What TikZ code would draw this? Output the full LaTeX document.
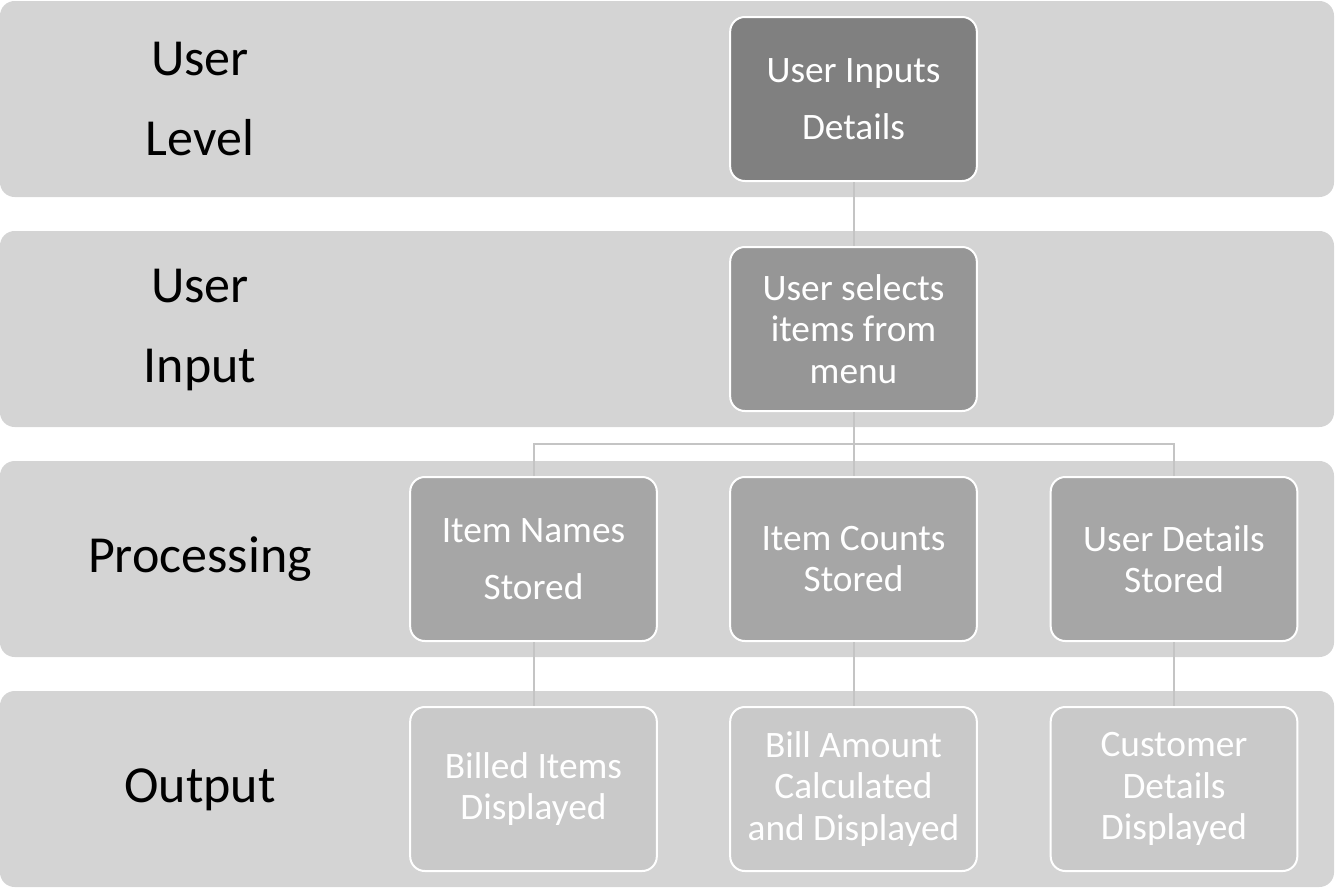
\documentclass[tikz,border=0pt]{standalone}
\usepackage{fontspec}
\setmainfont{Carlito}
\definecolor{bandc}{HTML}{D4D4D4}
\definecolor{lvA}{HTML}{808080}
\definecolor{lvB}{HTML}{969696}
\definecolor{lvC}{HTML}{A6A6A6}
\definecolor{lvD}{HTML}{C9C9C9}
\definecolor{linec}{HTML}{C4C4C4}
\begin{document}
\begin{tikzpicture}[x=0.75pt,y=-0.75pt,
  band/.style={fill=bandc,draw=none,rounded corners=11pt},
  lbl/.style={align=center,text=black,inner sep=0pt},
  bigA/.style={font=\fontsize{39}{60}\selectfont},
  box/.style={draw=white,line width=1.5pt,rounded corners=11pt,minimum width=185pt,minimum height=123pt,inner sep=0pt,align=center,text=white},
  wide/.style={font=\fontsize{28}{43}\selectfont},
  tight/.style={font=\fontsize{28}{31}\selectfont},
  conn/.style={draw=linec,line width=1.5pt}]
\useasboundingbox (0,0) rectangle (1335,889);
\fill[band] (0,1) rectangle (1334,197);
\fill[band] (0,231) rectangle (1334,427);
\fill[band] (0,461) rectangle (1334,657);
\fill[band] (0,691) rectangle (1334,887);
\node[lbl,bigA] (l1) at (200,99) {User\\Level};
\node[lbl,bigA] (l2) at (200,330) {User\\Input};
\node[lbl,bigA] (l3) at (200,559) {Processing};
\node[lbl,bigA] (l4) at (200,790) {Output};
\node[box,fill=lvA,wide] (u1) at (853.5,99) {User Inputs\\Details};
\node[box,fill=lvB,tight] (u2) at (853.5,329) {User selects\\items from\\menu};
\node[box,fill=lvC,wide] (p1) at (533.5,559) {Item Names\\Stored};
\node[box,fill=lvC,tight] (p2) at (853.5,559) {Item Counts\\Stored};
\node[box,fill=lvC,tight] (p3) at (1174,559) {User Details\\Stored};
\node[box,fill=lvD,tight] (o1) at (533.5,789) {Billed Items\\Displayed};
\node[box,fill=lvD,tight] (o2) at (853.5,789) {Bill Amount\\Calculated\\and Displayed};
\node[box,fill=lvD,tight] (o3) at (1174,789) {Customer\\Details\\Displayed};
\coordinate (j) at (853.5,444);
\draw[conn] (u1.south) -- (u2.north);
\draw[conn] (u2.south) -- (j);
\draw[conn] (j) -- (p2.north);
\draw[conn] (p1.north) |- (j);
\draw[conn] (p3.north) |- (j);
\draw[conn] (p1.south) -- (o1.north);
\draw[conn] (p2.south) -- (o2.north);
\draw[conn] (p3.south) -- (o3.north);
\end{tikzpicture}
\end{document}
